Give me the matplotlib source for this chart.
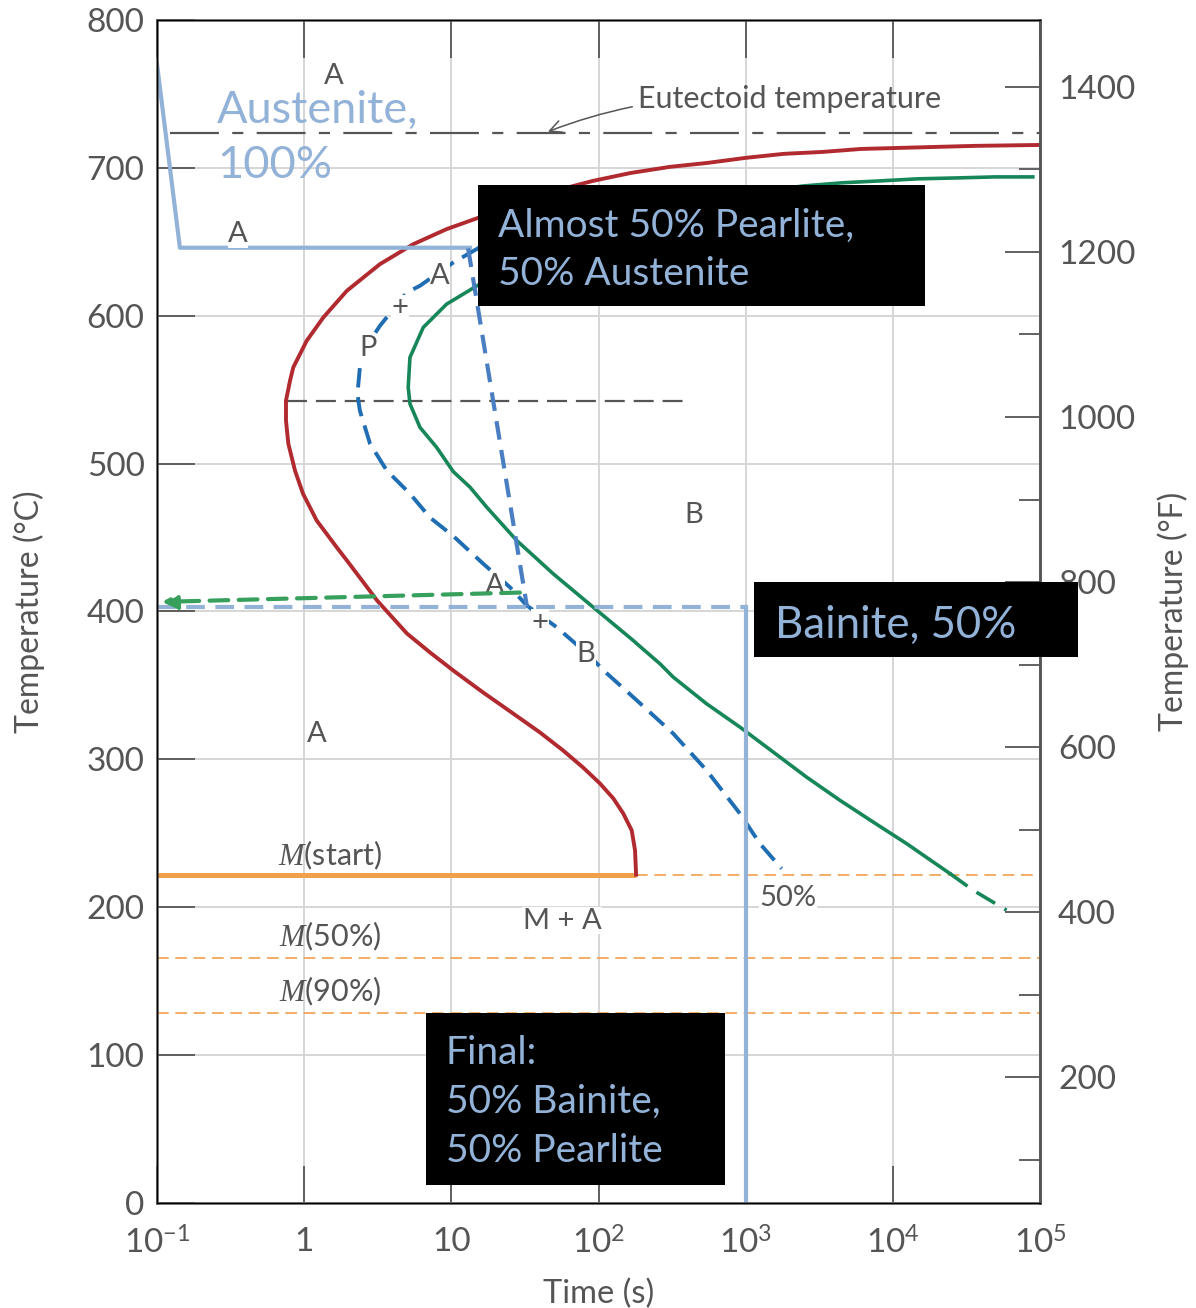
from __future__ import annotations

import matplotlib

matplotlib.use("Agg")
import matplotlib.pyplot as plt
from matplotlib.patches import Rectangle
from matplotlib.ticker import FixedLocator, NullLocator

# ---- data (time in s, temperature in degC) ----
START_TIME = [1e5, 36640, 19900, 10980, 6061, 3346, 1818, 1003, 554, 306, 166, 91.6, 50.6,
              27.9, 15.2, 9.29, 5.51, 3.27, 1.95, 1.35, 1.04, 0.843, 0.801, 0.752, 0.752,
              0.780, 0.866, 0.981, 1.216, 1.663, 1.95, 3.13, 4.99, 7.16, 10.3, 16.4, 26.2,
              40.0, 57.3, 78.3, 102, 126, 147, 168, 177, 180]
START_TEMP = [715.5, 714.9, 714.2, 713.5, 712.8, 710.8, 709.5, 706.8, 703.4, 700.7, 696.6,
              691.2, 684.5, 675.7, 666.2, 658.6, 648.4, 634.9, 616.9, 598.9, 583.1, 565.1,
              556.1, 542.6, 529.1, 513.5, 495.3, 479.7, 461.5, 443.4, 434.5, 407.4, 385.1,
              372.3, 360.1, 345.3, 331.1, 318.2, 306.1, 294.6, 283.8, 273.6, 263.5, 252,
              238.5, 222]

HALF_TIME = [15.4, 10.3, 6.12, 4.97, 3.27, 2.80, 2.39, 2.30, 2.39, 2.80, 3.64, 5.23, 7.16,
             10.3, 16.5, 25.0, 32.5, 51.9, 83.3, 114, 182, 322, 542, 914, 1249, 1754]
HALF_TEMP = [646, 636, 620.3, 615.7, 593.2, 583.1, 565.1, 547.1, 535.8, 513.5, 495.3, 479.7,
             463.5, 451, 432.2, 416.4, 404.1, 389.4, 371.6, 358.1, 339.9, 317.4, 292.6,
             263.3, 243, 226.1]

END_TIME = [89300, 49300, 27200, 14800, 8170, 4503, 2483, 914, 357, 102, 34.2, 15.6, 9.29,
            6.44, 5.23, 5.09, 5.23, 6.12, 7.94, 10.3, 13.4, 17.4, 27.8, 49.2, 92, 172, 191,
            261, 322, 542, 914, 1540, 2590, 4370, 7350, 12400, 24400]
END_TEMP = [693.9, 693.9, 693.2, 692.6, 691.2, 689.9, 687.8, 682.4, 675.7, 660.8, 640.5,
            621.4, 607.9, 592.1, 571.8, 551.6, 540.5, 524.5, 511, 494.6, 484, 470.5, 448,
            425.5, 402.9, 380.4, 376.4, 364.7, 355.6, 337.6, 321.8, 304.9, 288, 272.3,
            257.6, 243, 222.8]
END_DASH_TIME = [24400, 35100, 59200]
END_DASH_TEMP = [222.8, 211.5, 198]

EUTECTOID_TEMP = 723.5
EUTECTOID_RANGE = [0.123, 1e5]
NOSE_TEMP = 542.5
NOSE_RANGE = [0.764, 386]
MS_TEMP = 222
MS_END = 180
M50_TEMP = 165.5
M90_TEMP = 128.5

# heat-treatment path drawn over the diagram
QUENCH_TIME = [0.1, 0.143, 13.4]
QUENCH_TEMP = [770, 646, 646]
PATH_TIME = [13.0, 32.7]
PATH_TEMP = [645.5, 402.7]
HOLD_TEMP = 402.7
HOLD_END = 1000
ARROW_FROM = (29.2, 412.8)
ARROW_TO = (0.108, 406.5)

TIME_TICKS = [0.1, 1, 10, 100, 1000, 1e4, 1e5]
TIME_LABELS = ["$10^{-1}$", "1", "10", "$10^{2}$", "$10^{3}$", "$10^{4}$", "$10^{5}$"]
TEMP_TICKS = [0, 100, 200, 300, 400, 500, 600, 700, 800]
F_TICKS = [200, 400, 600, 800, 1000, 1200, 1400]
F_MINOR = [100, 300, 500, 700, 900, 1100, 1300]
F_LIMITS = (47.7, 1481)

# region labels: (text, time, temp)
REGION_LABELS = [
    ("A", 1.59, 762), ("A", 0.355, 655), ("P", 2.71, 578), ("+", 4.48, 605),
    ("A", 8.37, 627), ("B", 445, 465), ("A", 19.8, 417.5), ("+", 40, 392.5),
    ("B", 82, 371.5), ("A", 1.22, 317), ("M + A", 56.4, 191), ("50%", 1940, 206),
]
M_LABELS = [("start", 235), ("50%", 180), ("90%", 143)]

GRAY = "#555555"
RED = "#B02A30"
GREEN = "#17875A"
BLUE = "#1F6DB3"
PATH_BLUE = "#4A7EC2"
LIGHT_BLUE = "#93B2D8"
ORANGE = "#F0A04B"
ARROW_GREEN = "#36A05C"

plt.rcParams["font.family"] = ["Lato", "DejaVu Sans"]
plt.rcParams["mathtext.fontset"] = "custom"
plt.rcParams["mathtext.rm"] = "Lato"
plt.rcParams["mathtext.it"] = "Liberation Serif:italic"


def _setup_axes(fig):
    ax = fig.add_axes([0.1313, 0.0803, 0.7383, 0.9044])
    ax.set_xscale("log")
    ax.set_xlim(0.1, 1e5)
    ax.set_ylim(0, 800)
    ax.xaxis.set_major_locator(FixedLocator(TIME_TICKS))
    ax.xaxis.set_minor_locator(NullLocator())
    ax.set_xticklabels(TIME_LABELS)
    ax.set_yticks(TEMP_TICKS)
    ax.grid(True, color="#D6D6D6", lw=1.4)
    ax.set_axisbelow(True)
    ax.tick_params(axis="both", direction="in", length=27, width=1.3, color=GRAY,
                   labelsize=24, labelcolor=GRAY, top=True)
    ax.tick_params(axis="x", pad=17)
    ax.tick_params(axis="y", pad=9)
    for spine in ax.spines.values():
        spine.set_color(GRAY)
        spine.set_linewidth(1.8)
    ax.set_xlabel("Time (s)", fontsize=23.5, color=GRAY, labelpad=14)
    ax.set_ylabel("Temperature (°C)", fontsize=23, color=GRAY, labelpad=30)

    ax2 = ax.twinx()
    ax2.set_ylim(*F_LIMITS)
    ax2.set_yticks(F_TICKS)
    ax2.yaxis.set_minor_locator(FixedLocator(F_MINOR))
    ax2.tick_params(axis="y", which="major", direction="in", length=25, width=1.3,
                    color=GRAY, labelsize=24, labelcolor=GRAY, pad=13)
    ax2.tick_params(axis="y", which="minor", direction="in", length=15, width=1.3, color=GRAY)
    ax2.spines["right"].set_color(GRAY)
    ax2.spines["right"].set_linewidth(1.8)
    ax2.set_ylabel("Temperature (°F)", fontsize=23, color=GRAY, labelpad=16)
    return ax


def _draw_diagram(ax):
    ax.plot(EUTECTOID_RANGE, [EUTECTOID_TEMP] * 2, color=GRAY, lw=1.6,
            dashes=(22, 6, 5, 6))
    ax.plot(NOSE_RANGE, [NOSE_TEMP] * 2, color=GRAY, lw=1.6, dashes=(9, 4))
    ax.plot([0.1, MS_END], [MS_TEMP] * 2, color=ORANGE, lw=3.6, solid_capstyle="butt")
    ax.plot([MS_END, 1e5], [MS_TEMP] * 2, color=ORANGE, lw=1.2, dashes=(7, 4))
    ax.plot([0.1, 1e5], [M50_TEMP] * 2, color=ORANGE, lw=1.2, dashes=(7, 4))
    ax.plot([0.1, 1e5], [M90_TEMP] * 2, color=ORANGE, lw=1.2, dashes=(7, 4))

    ax.plot(START_TIME, START_TEMP, color=RED, lw=2.8, solid_joinstyle="round")
    ax.plot(END_TIME, END_TEMP, color=GREEN, lw=2.6, solid_joinstyle="round")
    ax.plot(END_DASH_TIME, END_DASH_TEMP, color=GREEN, lw=2.6, dashes=(6, 3))
    ax.plot(HALF_TIME, HALF_TEMP, color=BLUE, lw=2.8, dashes=(5, 2.5))

    box = dict(facecolor="white", edgecolor="none", pad=0.5)
    for text, t, temp in REGION_LABELS:
        ax.text(t, temp, text, fontsize=21, color=GRAY, ha="center", va="center", bbox=box)
    for text, temp in M_LABELS:
        ax.text(1.5, temp, "$M$(" + text + ")", fontsize=22, color=GRAY, ha="center", va="center")

    ax.annotate("Eutectoid temperature", xy=(45.3, 724.5), xytext=(185, 746.5),
                fontsize=22, color=GRAY, ha="left", va="center",
                arrowprops=dict(arrowstyle="->", color=GRAY, lw=1.1,
                                connectionstyle="arc3,rad=0.12", mutation_scale=22,
                                shrinkA=2, shrinkB=0))


def _draw_path(ax):
    ax.plot(QUENCH_TIME, QUENCH_TEMP, color=LIGHT_BLUE, lw=3.0)
    ax.plot(PATH_TIME, PATH_TEMP, color=PATH_BLUE, lw=3.0, dashes=(4.5, 2.5))
    ax.plot([0.1, HOLD_END], [HOLD_TEMP] * 2, color=LIGHT_BLUE, lw=3.0, dashes=(4.5, 2.5))
    ax.plot([HOLD_END, HOLD_END], [HOLD_TEMP, 0], color=LIGHT_BLUE, lw=3.0)
    ax.annotate("", xy=ARROW_TO, xytext=ARROW_FROM,
                arrowprops=dict(arrowstyle="-|>", color=ARROW_GREEN, lw=3.0,
                                linestyle=(0, (4.5, 2.5)), mutation_scale=22,
                                shrinkA=0, shrinkB=0))


def _draw_callouts(fig):
    boxes = [
        (0.3997, 0.7661, 0.3737, 0.0925),
        (0.6304, 0.4977, 0.2709, 0.0573),
        (0.3562, 0.0940, 0.2500, 0.1315),
    ]
    for x0, y0, w, h in boxes:
        fig.add_artist(Rectangle((x0, y0), w, h, transform=fig.transFigure,
                                 facecolor="black", edgecolor="none", zorder=5))
    fig.text(0.1814, 0.8945, "Austenite,\n100%", fontsize=32.5, color=LIGHT_BLUE,
             ha="left", va="center", linespacing=1.42, zorder=6)
    fig.text(0.4164, 0.8089, "Almost 50% Pearlite,\n50% Austenite", fontsize=28,
             color=LIGHT_BLUE, ha="left", va="center", linespacing=1.45, zorder=6)
    fig.text(0.648, 0.5222, "Bainite, 50%", fontsize=31.5, color=LIGHT_BLUE,
             ha="left", va="center", zorder=6)
    fig.text(0.3729, 0.1575, "Final:\n50% Bainite,\n50% Pearlite", fontsize=28,
             color=LIGHT_BLUE, ha="left", va="center", linespacing=1.45, zorder=6)


def main() -> None:
    fig = plt.figure(figsize=(11.96, 13.08), dpi=100)
    ax = _setup_axes(fig)
    _draw_diagram(ax)
    _draw_path(ax)
    _draw_callouts(fig)
    fig.savefig("out.png", dpi=100)
    plt.close(fig)


if __name__ == "__main__":
    main()
